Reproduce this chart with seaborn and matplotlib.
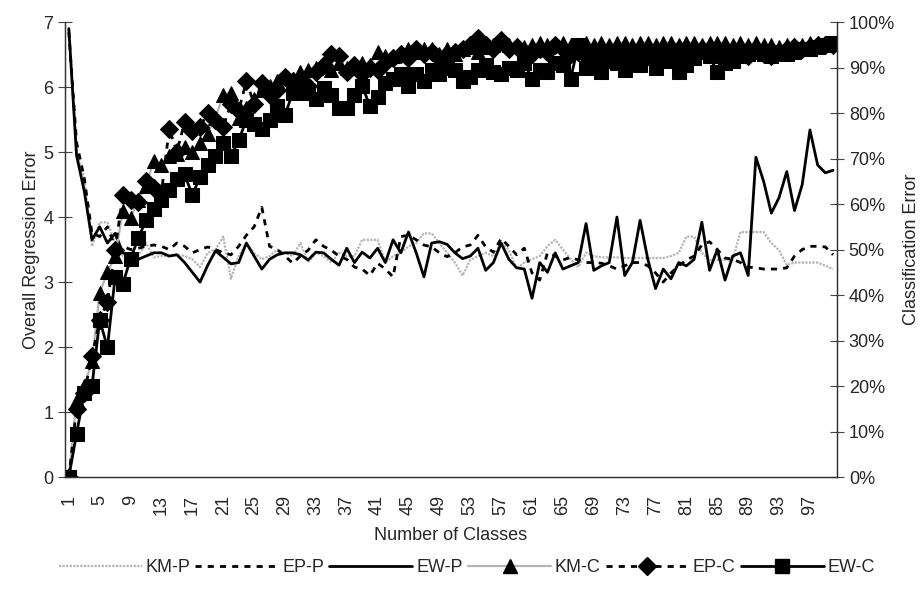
import matplotlib
matplotlib.use("Agg")
import matplotlib.pyplot as plt
import matplotlib.ticker as plticker
from matplotlib.lines import Line2D
import seaborn as sns
import numpy as np

# data
classes = list(range(1, 101))

km_p = [6.90, 5.00, 4.60, 3.55, 3.92, 3.92, 3.60, 3.40, 3.35, 3.40,
        3.60, 3.38, 3.40, 3.40, 3.42, 3.40, 3.35, 3.23, 3.45, 3.50,
        3.70, 3.05, 3.40, 3.60, 3.45, 3.35, 3.40, 3.50, 3.45, 3.40,
        3.60, 3.30, 3.45, 3.40, 3.30, 3.45, 3.40, 3.40, 3.65, 3.65,
        3.65, 3.30, 3.40, 3.45, 3.55, 3.60, 3.75, 3.75, 3.60, 3.45,
        3.30, 3.10, 3.34, 3.40, 3.45, 3.40, 3.60, 3.50, 3.20, 3.30,
        3.35, 3.40, 3.55, 3.65, 3.50, 3.35, 3.23, 3.45, 3.40, 3.38,
        3.38, 3.38, 3.37, 3.37, 3.37, 3.37, 3.37, 3.37, 3.40, 3.45,
        3.70, 3.70, 3.45, 3.34, 3.34, 3.34, 3.34, 3.77, 3.77, 3.77,
        3.77, 3.60, 3.49, 3.26, 3.30, 3.30, 3.30, 3.30, 3.25, 3.20]

ep_p = [6.85, 5.15, 4.60, 3.75, 3.70, 3.85, 3.55, 3.55, 3.50, 3.52,
        3.55, 3.57, 3.55, 3.50, 3.60, 3.55, 3.45, 3.50, 3.54, 3.50,
        3.45, 3.42, 3.55, 3.72, 3.85, 4.15, 3.55, 3.50, 3.40, 3.29,
        3.40, 3.49, 3.65, 3.55, 3.49, 3.40, 3.35, 3.23, 3.20, 3.10,
        3.29, 3.20, 3.08, 3.70, 3.72, 3.65, 3.57, 3.54, 3.45, 3.39,
        3.45, 3.54, 3.57, 3.72, 3.54, 3.46, 3.67, 3.55, 3.42, 3.52,
        3.14, 3.03, 3.45, 3.40, 3.34, 3.38, 3.34, 3.30, 3.30, 3.29,
        3.25, 3.20, 3.25, 3.30, 3.30, 3.25, 3.14, 3.00, 3.14, 3.25,
        3.34, 3.40, 3.57, 3.62, 3.50, 3.37, 3.35, 3.30, 3.23, 3.22,
        3.20, 3.20, 3.20, 3.22, 3.40, 3.50, 3.55, 3.55, 3.54, 3.42]

ew_p = [6.90, 4.95, 4.40, 3.65, 3.85, 3.60, 3.75, 3.45, 3.40, 3.35,
        3.40, 3.45, 3.45, 3.40, 3.42, 3.30, 3.15, 3.00, 3.26, 3.48,
        3.38, 3.28, 3.30, 3.60, 3.40, 3.20, 3.35, 3.42, 3.45, 3.45,
        3.42, 3.34, 3.46, 3.45, 3.35, 3.26, 3.52, 3.30, 3.46, 3.37,
        3.52, 3.30, 3.65, 3.45, 3.77, 3.45, 3.08, 3.60, 3.62, 3.58,
        3.45, 3.36, 3.40, 3.52, 3.18, 3.30, 3.60, 3.35, 3.22, 3.20,
        2.75, 3.30, 3.15, 3.45, 3.20, 3.25, 3.30, 3.90, 3.18, 3.25,
        3.30, 4.00, 3.10, 3.30, 3.95, 3.35, 2.90, 3.20, 3.05, 3.30,
        3.25, 3.35, 3.92, 3.18, 3.50, 3.03, 3.40, 3.45, 3.10, 4.92,
        4.55, 4.06, 4.30, 4.70, 4.10, 4.50, 5.34, 4.80, 4.68, 4.72]

km_c = [0, 17, 20, 25.5, 40.5, 45, 48.5, 58.5, 57, 61,
        64, 69.5, 68.5, 70.5, 71, 72.5, 71.5, 73.5, 75.5, 79,
        84, 84.5, 79, 81, 83, 85, 86, 87, 88, 87.5,
        89, 89.5, 90, 90.5, 89.5, 91, 90, 90.5, 91, 90.5,
        93.5, 92.5, 92.5, 93.5, 94, 93.5, 94, 94, 93, 94,
        93, 94, 94.5, 93.5, 94.5, 95, 95.5, 95, 95, 94.5,
        95, 95.5, 95, 95, 95.5, 95, 95, 95.5, 95, 95.5,
        95, 95.5, 95.5, 95, 95.5, 95.5, 95, 95.5, 95.5, 95,
        95.5, 95.5, 95, 95.5, 95.5, 95.5, 95, 95.5, 95, 95.5,
        95, 95, 94.5, 95, 95, 95, 95.5, 95, 95.5, 95.5]

ep_c = [0, 15, 18.5, 26.5, 34.5, 38.5, 50, 62, 61, 60.5,
        65, 63.5, 62.5, 76.5, 71.5, 78, 76, 77, 80, 78.5,
        77, 82, 80.5, 87, 82, 86.5, 84, 85, 88, 87,
        87.5, 86, 89, 90.5, 93, 92.5, 89, 90.5, 88.5, 90,
        89.5, 91, 92, 93, 92, 94, 93, 93.5, 92, 93,
        93.5, 94, 95, 96.5, 95, 94, 96, 94, 94.5, 93.5,
        93, 94, 93.5, 95, 94, 93, 93.5, 92.5, 93, 93.5,
        93, 92.5, 93.5, 92.5, 93, 93.5, 93, 92, 93.5, 94,
        93, 93.5, 94, 93.5, 94, 93, 93.5, 94, 92.5, 94,
        93, 92.5, 93.5, 94, 94.5, 94, 94.5, 95, 95, 95]

ew_c = [0, 9.5, 18.5, 20, 34.5, 28.5, 44, 42.5, 48, 52.5,
        56.5, 59, 61, 63, 65.5, 66.5, 62, 66, 68.5, 70.5,
        73.5, 70.5, 74, 78.5, 77.5, 76.5, 78.5, 81.5, 79.5, 84.5,
        85, 84.5, 83, 85.5, 84, 81, 81, 84, 86, 81.5,
        83.5, 86.5, 87.5, 88.5, 86, 88.5, 87, 89.5, 88.5, 90,
        89.5, 87, 88, 89.5, 90.5, 89, 88.5, 90, 89.5, 91,
        87.5, 89.5, 89, 91, 90.5, 87.5, 95, 90, 91, 89,
        91.5, 91, 89.5, 91.5, 90.5, 92, 90, 92.5, 91.5, 89,
        90.5, 92, 93.5, 92.5, 89, 91, 91.5, 92.5, 93, 93.5,
        93, 92.5, 93.5, 93, 93.5, 94, 94, 94.5, 95, 95.3]

xtick_labels = [str(v) for v in range(1, 98, 4)]

sns.set_style("white")
plt.rcParams['font.family'] = ['Liberation Sans', 'DejaVu Sans']

gray = '#b4b4b4'
fig, ax = plt.subplots(figsize=(9.24, 5.89), dpi=100)
fig.subplots_adjust(left=0.0703, right=0.9058, top=0.9626, bottom=0.19)

sns.lineplot(x=classes, y=km_p, ax=ax, color=gray, lw=1.6, linestyle=(0, (1, 0.6)))
sns.lineplot(x=classes, y=ep_p, ax=ax, color='black', lw=2, linestyle=(0, (2.2, 2.2)))
sns.lineplot(x=classes, y=ew_p, ax=ax, color='black', lw=2, solid_joinstyle='round')

ax2 = ax.twinx()
sns.lineplot(x=classes, y=km_c, ax=ax2, color=gray, lw=1.6, marker='^', markersize=10,
             markerfacecolor='black', markeredgecolor='black')
sns.lineplot(x=classes, y=ep_c, ax=ax2, color='black', lw=2, linestyle=(0, (2.2, 2.2)),
             marker='D', markersize=9, markerfacecolor='black', markeredgecolor='black')
sns.lineplot(x=classes, y=ew_c, ax=ax2, color='black', lw=2, marker='s', markersize=10,
             markerfacecolor='black', markeredgecolor='black')

ax.set_xlim(0.5, 100.5)
ax.set_ylim(0, 7)
ax2.set_ylim(0, 100)

ax.set_xticks(list(range(1, 98, 4)))
ax.set_xticklabels(xtick_labels, rotation=90, fontsize=13)
ax.xaxis.set_minor_locator(plticker.MultipleLocator(1))
ax.set_yticks(range(0, 8))
ax.tick_params(axis='y', labelsize=13, direction='inout', length=10, width=0.8, color='#444444')
ax.tick_params(axis='x', which='both', direction='inout', length=10, width=0.8, color='#444444')
ax.tick_params(axis='x', which='major', pad=8)
ax2.set_yticks(range(0, 101, 10))
ax2.yaxis.set_major_formatter(plticker.FuncFormatter(lambda v, p: '%d%%' % v))
ax2.tick_params(axis='y', labelsize=13, direction='inout', length=10, width=0.8, color='#444444')

for a in (ax, ax2):
    a.spines['top'].set_visible(False)
    for s in ('left', 'right', 'bottom'):
        a.spines[s].set_color('#333333')
        a.spines[s].set_linewidth(0.9)
    a.grid(False)

ax.set_xlabel('Number of Classes', fontsize=13, labelpad=8)
ax.set_ylabel('Overall Regression Error', fontsize=13, labelpad=2)
ax2.set_ylabel('Classification Error', fontsize=13, labelpad=6)

handles = [
    Line2D([], [], color=gray, lw=1.6, linestyle=(0, (1, 0.6))),
    Line2D([], [], color='black', lw=2, linestyle=(0, (2.2, 2.2))),
    Line2D([], [], color='black', lw=2),
    Line2D([], [], color=gray, lw=1.6, marker='^', markersize=10, mfc='black', mec='black'),
    Line2D([], [], color='black', lw=2, linestyle=(0, (2.2, 2.2)), marker='D', markersize=9,
           mfc='black', mec='black'),
    Line2D([], [], color='black', lw=2, marker='s', markersize=10, mfc='black', mec='black'),
]
fig.legend(handles, ['KM-P', 'EP-P', 'EW-P', 'KM-C', 'EP-C', 'EW-C'], loc='center',
           bbox_to_anchor=(0.505, 0.036), ncol=6, frameon=False, fontsize=13,
           handlelength=4.6, handletextpad=0.2, columnspacing=0.3)

fig.savefig('out.png', dpi=100)
